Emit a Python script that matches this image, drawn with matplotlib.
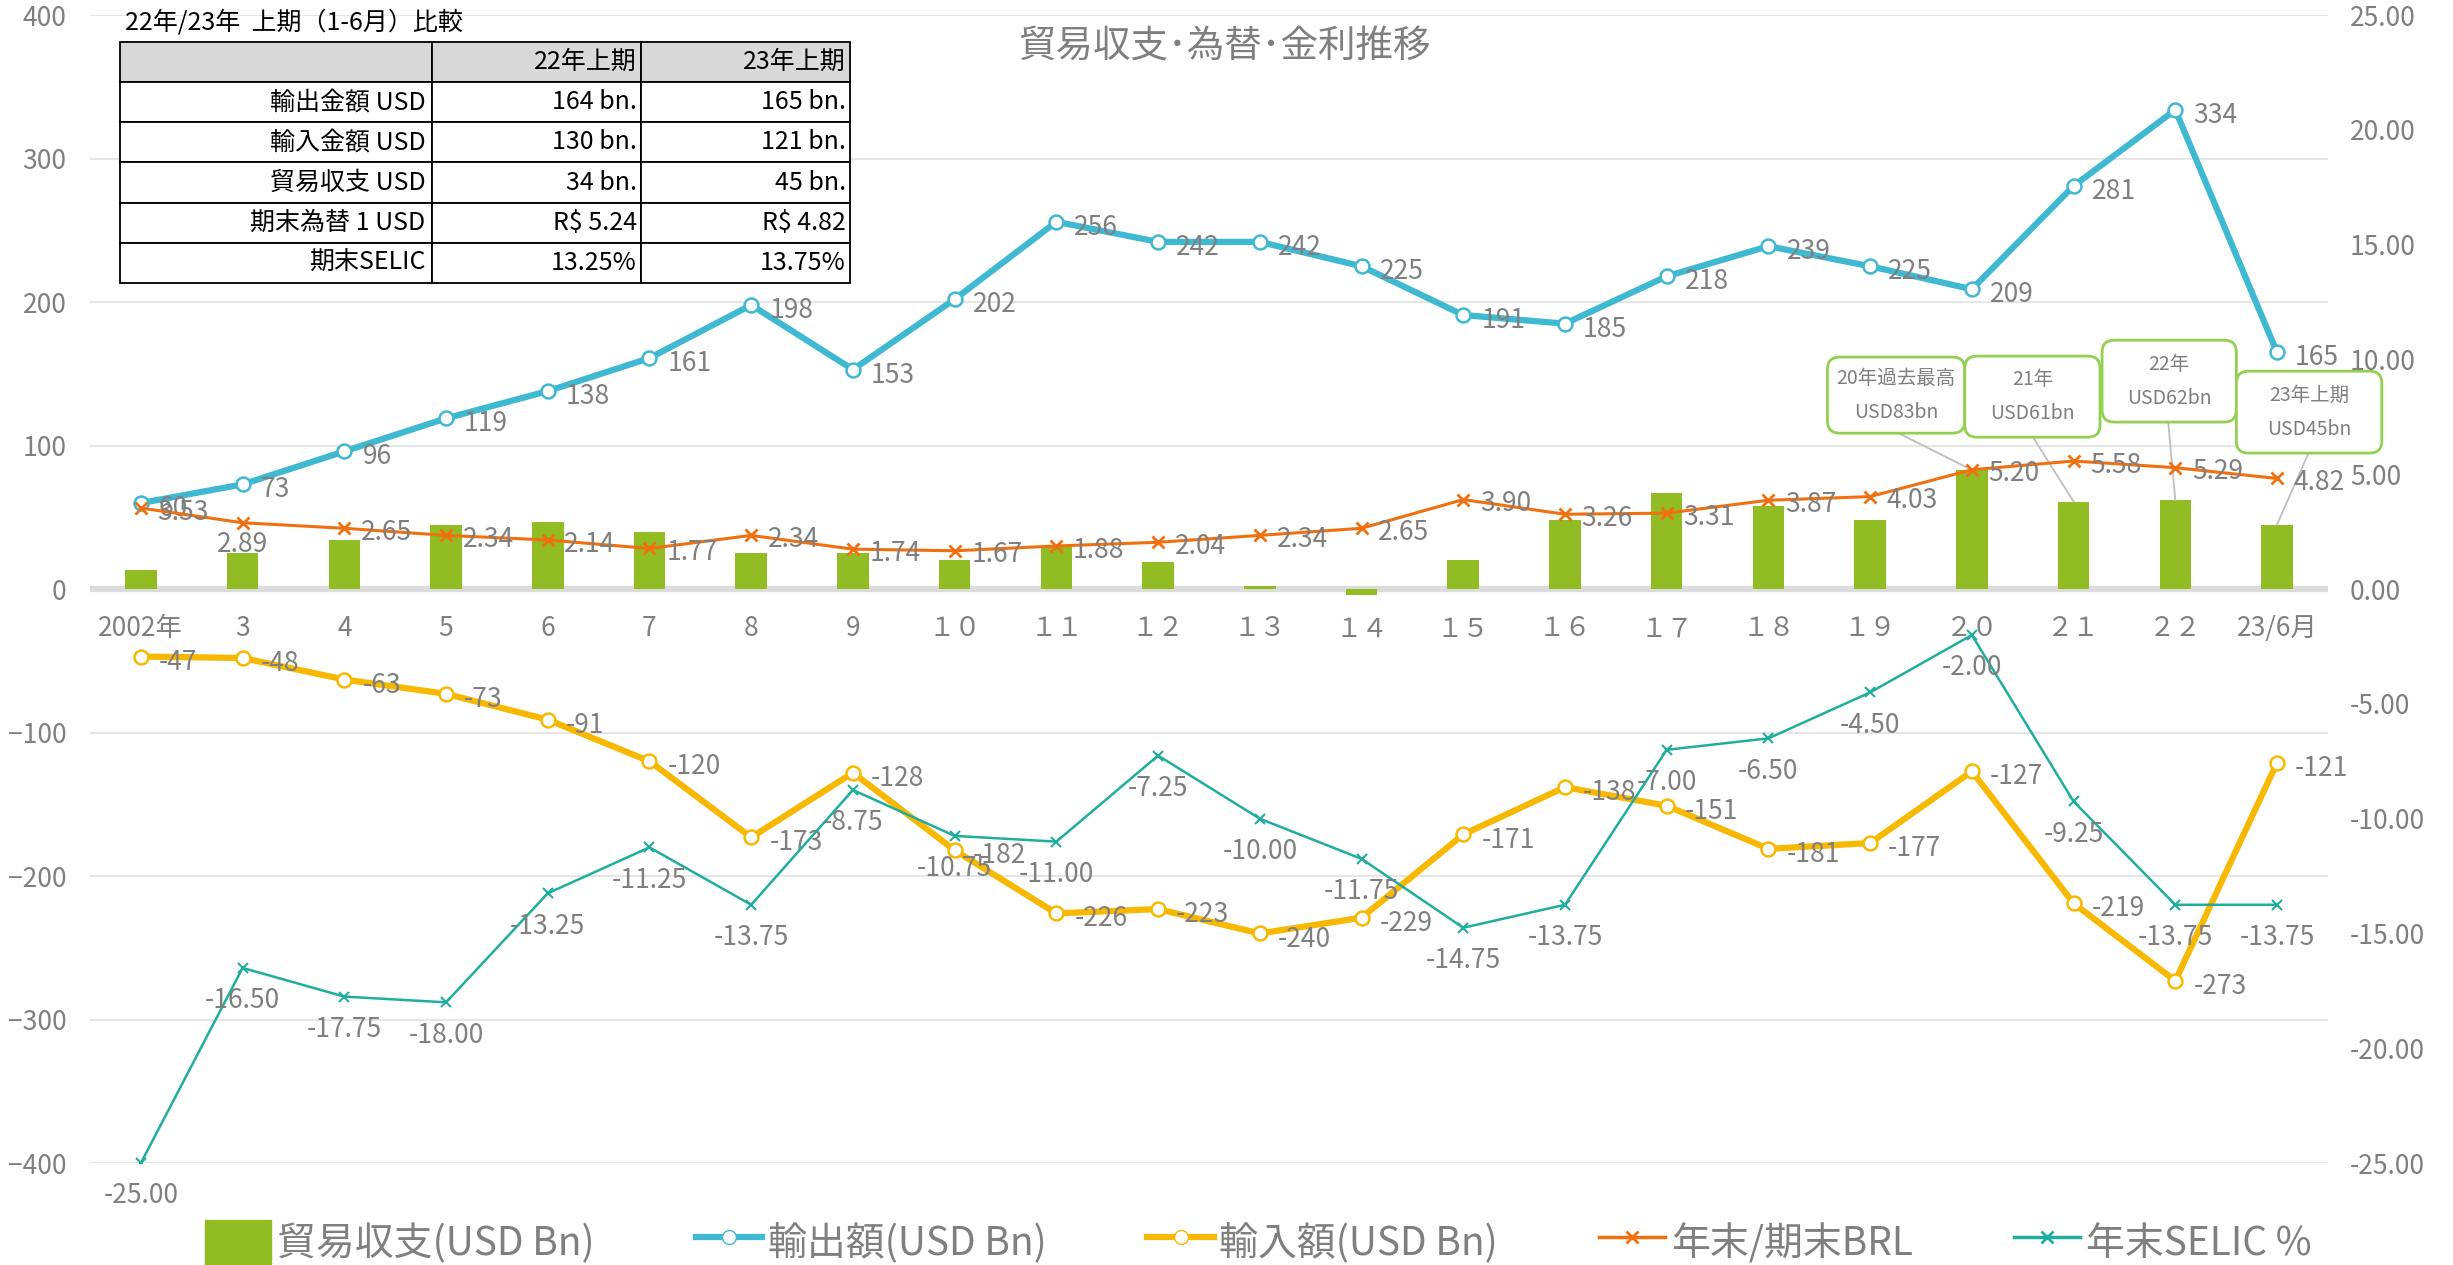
import numpy as np
import matplotlib.pyplot as plt
from matplotlib.patches import FancyBboxPatch, Patch
from matplotlib.lines import Line2D

plt.rcParams['font.family'] = ['Noto Sans CJK JP', 'DejaVu Sans']

# data
years = ['2002年', '3', '4', '5', '6', '7', '8', '9', '１０', '１１', '１２', '１３', '１４',
         '１５', '１６', '１７', '１８', '１９', '２０', '２１', '２２', '23/6月']
exports = [60, 73, 96, 119, 138, 161, 198, 153, 202, 256, 242, 242, 225, 191, 185, 218,
           239, 225, 209, 281, 334, 165]
imports = [-47, -48, -63, -73, -91, -120, -173, -128, -182, -226, -223, -240, -229, -171,
           -138, -151, -181, -177, -127, -219, -273, -121]
balance = [13, 25, 34, 45, 47, 40, 25, 25, 20, 30, 19, 2, -4, 20, 48, 67, 58, 48, 83, 61, 62, 45]
brl = [3.53, 2.89, 2.65, 2.34, 2.14, 1.77, 2.34, 1.74, 1.67, 1.88, 2.04, 2.34, 2.65, 3.90,
       3.26, 3.31, 3.87, 4.03, 5.20, 5.58, 5.29, 4.82]
selic = [-25.00, -16.50, -17.75, -18.00, -13.25, -11.25, -13.75, -8.75, -10.75, -11.00, -7.25,
         -10.00, -11.75, -14.75, -13.75, -7.00, -6.50, -4.50, -2.00, -9.25, -13.75, -13.75]

tbl_rows = ['輸出金額 USD', '輸入金額 USD', '貿易収支 USD', '期末為替 1 USD', '期末SELIC']
tbl_22 = ['164 bn.', '130 bn.', '34 bn.', 'R$ 5.24', '13.25%']
tbl_23 = ['165 bn.', '121 bn.', '45 bn.', 'R$ 4.82', '13.75%']

callout_idx = [18, 19, 20, 21]
callout_txt = ['20年過去最高\nUSD83bn', '21年\nUSD61bn', '22年\nUSD62bn', '23年上期\nUSD45bn']
# box (x0, x1, ybottom, ytop) and leader start x
callout_box = [(16.58, 17.93, 108.7, 161.7), (17.93, 19.26, 105.9, 162.4),
               (19.28, 20.60, 116.4, 173.5), (20.60, 22.03, 94.8, 151.9)]
callout_lx = [17.28, 18.6, 19.93, 21.31]

gray = '#7f7f7f'
bar_c = '#92bc24'
exp_c = '#3fb8d1'
imp_c = '#f8b800'
brl_c = '#f0700f'
sel_c = '#1fae9e'

x = np.arange(len(years))

fig = plt.figure(figsize=(24.53, 12.65), dpi=100)
ax = fig.add_axes([0.0367, 0.0806, 0.9123, 0.9074])
ax.set_xlim(-0.5, len(years) - 0.5)
ax.set_ylim(-400, 400)
ax2 = ax.twinx()
ax2.set_ylim(-25, 25)

ax.set_yticks(range(-400, 401, 100))
ax.grid(axis='y', color='#e6e6e6', lw=1.5)
ax.set_axisbelow(True)
ax.axhline(0, color='#dcdcdc', lw=4.5, zorder=1.5)

for a in (ax, ax2):
    for s in a.spines.values():
        s.set_visible(False)
ax.spines['bottom'].set_position(('data', 0))
ax.set_xticks(x, years)
ax.tick_params(axis='x', length=0, pad=19, labelsize=19, labelcolor=gray)
ax.tick_params(axis='y', length=0, pad=17, labelsize=19, labelcolor=gray)
ax2.set_yticks(range(-25, 26, 5))
ax2.set_yticklabels([f'{v:.2f}' for v in range(-25, 26, 5)])
ax2.tick_params(axis='y', length=0, pad=16, labelsize=19, labelcolor=gray)

ax.bar(x, balance, width=0.31, color=bar_c, zorder=3)
ax.plot(x, exports, color=exp_c, lw=4.5, marker='o', ms=10, mfc='white', mec=exp_c, mew=1.8, zorder=4)
ax.plot(x, imports, color=imp_c, lw=4.5, marker='o', ms=10, mfc='white', mec=imp_c, mew=1.8, zorder=4)
ax2.plot(x, brl, color=brl_c, lw=2.2, marker='x', ms=8, mew=2)
ax2.plot(x, selic, color=sel_c, lw=1.8, marker='x', ms=7, mew=1.5)


def labels(a, ys, fmt, dx, dy, ha, va):
    for xi, yi in zip(x, ys):
        a.annotate(fmt(yi), (xi, yi), xytext=(dx, dy), textcoords='offset points',
                   ha=ha, va=va, fontsize=19, color=gray, zorder=6)


labels(ax, exports, str, 13, -4, 'left', 'center')
labels(ax, imports, str, 13, -4, 'left', 'center')
for xi, yi in zip(x, brl):
    if xi == 1:
        ax2.annotate(f'{yi:.2f}', (xi, yi), xytext=(0, -6), textcoords='offset points',
                     ha='center', va='top', fontsize=19, color=gray)
    else:
        ax2.annotate(f'{yi:.2f}', (xi, yi), xytext=(12, -3), textcoords='offset points',
                     ha='left', va='center', fontsize=19, color=gray)
labels(ax2, selic, lambda v: f'{v:.2f}', 0, -14, 'center', 'top')

# callouts
for i, t, (x0, x1, y0, y1), lx in zip(callout_idx, callout_txt, callout_box, callout_lx):
    ax.plot([lx, i], [y0, balance[i]], color='#bfbfbf', lw=1.3, zorder=5, clip_on=False)
    box = FancyBboxPatch((x0, y0), x1 - x0, y1 - y0,
                         boxstyle='round,pad=0,rounding_size=0.12', mutation_aspect=71,
                         fc='white', ec='#92d050', lw=2, zorder=6, clip_on=False)
    ax.add_patch(box)
    ax.text((x0 + x1) / 2, (y0 + y1) / 2, t, ha='center', va='center', fontsize=14,
            color=gray, linespacing=1.8, zorder=7, clip_on=False)

fig.text(0.499, 0.963, '貿易収支･為替･金利推移', fontsize=27, color=gray, ha='center', va='center')

# comparison table
fig.text(0.051, 0.9826, '22年/23年  上期（1-6月）比較', fontsize=18, va='center', color='black')
tax = fig.add_axes([0.0489, 0.7763, 0.2976, 0.1905])
tax.axis('off')
cells = [['', '22年上期', '23年上期']] + [[r, a, b] for r, a, b in zip(tbl_rows, tbl_22, tbl_23)]
tbl = tax.table(cellText=cells, cellLoc='right', bbox=[0, 0, 1, 1], colWidths=[0.427, 0.2865, 0.2865])
tbl.auto_set_font_size(False)
for (r, c), cell in tbl.get_celld().items():
    cell.set_fontsize(18)
    cell.set_linewidth(1.3)
    cell.PAD = 0.02
    if r == 0:
        cell.set_facecolor('#d9d9d9')
        cell._loc = 'center'

handles = [Patch(color=bar_c),
           Line2D([], [], color=exp_c, lw=4.5, marker='o', ms=10, mfc='white', mec=exp_c),
           Line2D([], [], color=imp_c, lw=4.5, marker='o', ms=10, mfc='white', mec=imp_c),
           Line2D([], [], color=brl_c, lw=2.5, marker='x', ms=8, mew=2),
           Line2D([], [], color=sel_c, lw=2.5, marker='x', ms=8, mew=2)]
names = ['貿易収支(USD Bn)', '輸出額(USD Bn)', '輸入額(USD Bn)', '年末/期末BRL', '年末SELIC %']
leg = fig.legend(handles, names, loc='center', bbox_to_anchor=(0.513, 0.018), ncol=5,
                 frameon=False, fontsize=28, handlelength=1.7, handleheight=1.4,
                 handletextpad=0.15, columnspacing=2.6, labelcolor=gray)

fig.savefig('out.png', dpi=100)
